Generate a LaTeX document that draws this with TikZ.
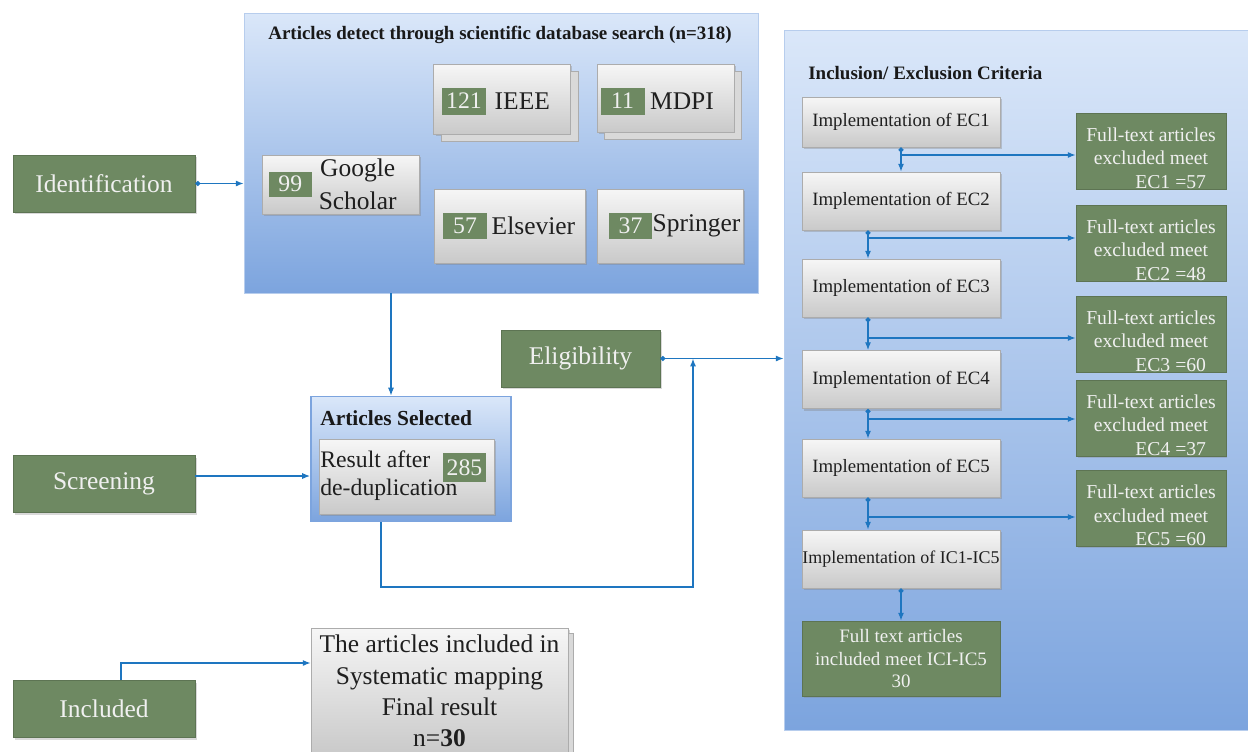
\documentclass[tikz,border=0pt]{standalone}
\usepackage{fontspec}
\setmainfont{Liberation Serif}
\usetikzlibrary{positioning,shadows,arrows.meta}
\definecolor{stepgreen}{RGB}{110,137,98}
\definecolor{panelblue}{RGB}{124,164,222}
\definecolor{panellight}{RGB}{218,231,249}
\definecolor{flowblue}{RGB}{30,118,192}

\tikzset{
  phasebox/.style={draw=stepgreen!85!black, fill=stepgreen, text=white!94!black,
    font=\fontsize{14.5}{17}\selectfont, minimum width=3.64cm, minimum height=1.14cm,
    inner sep=0pt, drop shadow={shadow xshift=0.04cm, shadow yshift=-0.04cm, opacity=0.3}},
  panel/.style={draw=panelblue!55, top color=panellight, bottom color=panelblue, inner sep=0pt},
  graybox/.style={draw=gray!65, top color=gray!7, bottom color=gray!42, inner sep=0pt,
    drop shadow={shadow xshift=0.04cm, shadow yshift=-0.04cm, opacity=0.35}},
  stackbox/.style={graybox, copy shadow={shadow xshift=#1, shadow yshift=-#1,
    draw=gray!65, fill=gray!30}},
  stackbox/.default=0.15cm,
  dbtext/.style={text=black!88, font=\fontsize{14.5}{18.4}\selectfont, inner sep=0pt},
  badge/.style={fill=stepgreen, text=white!94!black, font=\fontsize{13.5}{16}\selectfont,
    inner sep=0pt, minimum width=0.88cm, minimum height=0.54cm},
  critbox/.style={graybox, minimum width=3.96cm, minimum height=1.16cm, text=black!88,
    font=\fontsize{10.7}{13}\selectfont},
  exbox/.style={fill=stepgreen, draw=stepgreen!85!black, minimum width=3cm,
    minimum height=1.52cm, inner sep=0pt,
    drop shadow={shadow xshift=0.03cm, shadow yshift=-0.03cm, opacity=0.3}},
  extext/.style={text=white!94!black, font=\fontsize{11.2}{13.4}\selectfont,
    align=center, inner sep=0pt},
  headtext/.style={font=\bfseries\fontsize{10.8}{13}\selectfont, text=black!90, inner sep=0pt},
  link/.style={draw=flowblue, line width=0.8pt, -{Latex[length=4.5pt,width=3.5pt]}},
  linkdot/.style={link, {Circle[length=2.8pt]}-{Latex[length=4.5pt,width=3.5pt]}}
}

\begin{document}
\begin{tikzpicture}[x=0.02cm, y=-0.02cm]
    \clip (0,0) rectangle (1248,751);

    % Database search panel
    \node[panel, minimum width=10.28cm, minimum height=5.6cm] (dbpanel) at (501,153) {};
    \node[headtext] (dbtitle) at (500,35) {Articles detect through scientific database search (n=318)};

    % Databases
    \node[stackbox, minimum width=2.74cm, minimum height=1.4cm] (ieee) at (502,99) {};
    \node[badge] (ieeen) at (464,101) {121};
    \node[dbtext, right=0.16cm of ieeen] (ieeet) {IEEE};

    \node[stackbox, minimum width=2.74cm, minimum height=1.36cm] (mdpi) at (665.5,98) {};
    \node[badge] (mdpin) at (622.5,101) {11};
    \node[dbtext, right=0.1cm of mdpin] (mdpit) {MDPI};

    \node[graybox, minimum width=3.14cm, minimum height=1.18cm] (gs) at (340.5,184.5) {};
    \node[badge, minimum width=0.85cm, minimum height=0.5cm] (gsn) at (290.3,184.2) {99};
    \node[dbtext, align=center, right=0.13cm of gsn] (gst) {Google\\Scholar};

    \node[graybox, minimum width=3.02cm, minimum height=1.48cm] (els) at (509.5,226) {};
    \node[badge, minimum height=0.52cm] (elsn) at (465,226) {57};
    \node[dbtext, right=0.08cm of elsn] (elst) {Elsevier};

    \node[graybox, minimum width=2.92cm, minimum height=1.48cm] (spr) at (670,226) {};
    \node[badge, minimum width=0.86cm, minimum height=0.52cm] (sprn) at (630.5,226) {37};
    \node[dbtext, right=0pt of sprn] (sprt) {Springer};

    % Phases
    \node[phasebox] (idf) at (104,183.5) {Identification};
    \node[phasebox] (scr) at (104,484) {Screening};
    \node[phasebox] (inc) at (104,709) {Included};
    \node[phasebox, minimum width=3.18cm] (elig) at (580.5,358.5) {Eligibility};

    % Articles selected
    \node[panel, draw=panelblue, line width=1pt, minimum width=4cm, minimum height=2.5cm] (sel) at (411,459) {};
    \node[headtext, font=\bfseries\fontsize{12.2}{14}\selectfont, anchor=west] (seltitle) at (320,418) {Articles Selected};
    \node[graybox, minimum width=3.5cm, minimum height=1.5cm] (dedup) at (406.5,476.5) {};
    \node[dbtext, font=\fontsize{13.5}{16}\selectfont, align=left, anchor=west] (deduptext) at (320,476) {Result after\\de-duplication};
    \node[badge, minimum width=0.86cm, minimum height=0.58cm] (dupn) at (464.5,467.5) {285};

    % Final result
    \node[stackbox=0.1cm, minimum width=5.14cm, minimum height=2.52cm, dbtext,
          font=\fontsize{14.5}{17.9}\selectfont, align=center] (fin) at (439.5,691)
        {The articles included in\\Systematic mapping\\Final result\\n=\textbf{30}};

    % Criteria panel
    \node[panel, minimum width=9.56cm, minimum height=14cm] (crit) at (1023,380) {};
    \node[headtext, anchor=west] (crittitle) at (808,73) {Inclusion/ Exclusion Criteria};

    \node[critbox, minimum height=1.0cm] (ec1) at (901,122) {Implementation of EC1};
    \node[critbox] (ec2) at (901,201) {Implementation of EC2};
    \node[critbox] (ec3) at (901,288) {Implementation of EC3};
    \node[critbox] (ec4) at (901,379.5) {Implementation of EC4};
    \node[critbox] (ec5) at (901,468) {Implementation of EC5};
    \node[critbox, font=\fontsize{10.2}{12}\selectfont] (ic) at (901,559) {Implementation of IC1-IC5};
    \node[exbox, minimum width=3.96cm, minimum height=1.5cm, text=white!94!black,
          font=\fontsize{10.8}{12.8}\selectfont, align=center] (incl) at (901,658.5)
        {Full text articles\\included meet ICI-IC5\\30};

    % Excluded articles
    \foreach \i/\y/\n in {1/151/57, 2/243/48, 3/334/60, 4/418/37, 5/508.5/60}
    {
        \node[exbox] (ex\i) at (1151,\y) {};
        \node[extext] (ext\i) at ([yshift=-0.14cm]ex\i.center)
            {Full-text articles\\excluded meet\\\hspace*{2em}EC\i{} =\n};
    }

    % Criteria connectors
    \coordinate (b1) at (901,155);
    \coordinate (b2) at (868,238);
    \coordinate (b3) at (868,338);
    \coordinate (b4) at (868,419);
    \coordinate (b5) at (868,517);
    \draw[linkdot] (ec1) -- (ec2);
    \draw[link] (b1) -- (b1 -| ex1.west);
    \draw[linkdot] (ec2.south -| b2) -- (ec3.north -| b2);
    \draw[link] (b2) -- (b2 -| ex2.west);
    \draw[linkdot] (ec3.south -| b3) -- (ec4.north -| b3);
    \draw[link] (b3) -- (b3 -| ex3.west);
    \draw[linkdot] (ec4.south -| b4) -- (ec5.north -| b4);
    \draw[link] (b4) -- (b4 -| ex4.west);
    \draw[linkdot] (ec5.south -| b5) -- (ic.north -| b5);
    \draw[link] (b5) -- (b5 -| ex5.west);
    \draw[linkdot] (ic) -- (incl);

    % Phase connectors
    \coordinate (jn) at (693,358.5);
    \coordinate (lp) at (381,587);
    \draw[linkdot] (idf.east) -- (idf.east -| dbpanel.west);
    \draw[link] (dbpanel.south -| 391,0) -- (sel.north -| 391,0);
    \draw[link] (scr.east |- 0,476) -- (sel.west |- 0,476);
    \draw[link] (sel.south -| lp) -- (lp) -| (jn);
    \draw[linkdot] (elig.east) -- (elig.east -| crit.west);
    \draw[link] (inc.north -| 121,0) |- (fin.west |- 0,663);
\end{tikzpicture}
\end{document}
